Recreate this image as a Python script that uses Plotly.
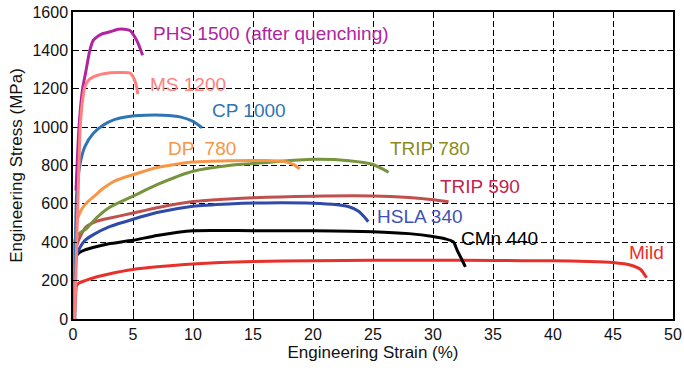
import plotly.graph_objects as go

# ---- data (engineering strain %, engineering stress MPa) ----
mild_x = [0.1, 0.2, 0.3, 0.5, 1, 2, 3, 5, 7, 10, 15, 20, 25, 30, 35, 40, 43, 45, 46.5, 47.3, 47.8]
mild_y = [0, 100, 175, 188, 200, 220, 235, 258, 272, 287, 300, 304, 306, 306, 305, 303, 300, 294, 280, 258, 215]

cmn_x = [0.1, 0.2, 0.5, 1, 2, 3, 5, 7, 10, 15, 20, 25, 28, 30, 31, 31.7, 32.0, 32.4, 32.7]
cmn_y = [0, 320, 345, 360, 378, 392, 410, 435, 460, 460, 460, 455, 445, 430, 418, 402, 360, 310, 272]

hsla_x = [0.1, 0.3, 0.6, 1, 1.7, 3, 5, 7, 10, 13, 16, 20, 22, 23, 23.8, 24.3, 24.6]
hsla_y = [0, 330, 375, 410, 440, 480, 520, 555, 588, 600, 605, 603, 595, 585, 562, 530, 507]

trip590_x = [0.1, 0.3, 0.6, 1.1, 2, 3, 5, 7, 10, 15, 20, 25, 28, 30, 31.3]
trip590_y = [0, 380, 430, 480, 510, 525, 552, 580, 612, 632, 640, 641, 633, 622, 611]

trip780_x = [0.1, 0.2, 0.5, 1.1, 2, 3, 5, 7, 10, 13, 16, 20, 23, 25, 26.3]
trip780_y = [0, 420, 445, 470, 530, 580, 640, 700, 770, 800, 815, 832, 825, 805, 765]

dp780_x = [0.1, 0.3, 0.7, 1.2, 1.7, 2.5, 3.5, 5, 7, 10, 13, 16, 17.5, 18.4, 18.9]
dp780_y = [0, 500, 570, 610, 636, 680, 720, 752, 790, 818, 825, 826, 822, 805, 782]

cp1000_x = [0.15, 0.3, 0.6, 1.0, 1.7, 2.5, 3.5, 4.5, 6, 7.5, 9, 10, 10.75]
cp1000_y = [0, 650, 812, 900, 968, 1010, 1040, 1054, 1062, 1062, 1052, 1030, 997]

phs_x = [0.25, 0.5, 0.8, 1.1, 1.4, 1.7, 2.1, 2.5, 3.1, 3.75, 4.3, 4.75, 5.1, 5.4, 5.8]
phs_y = [670, 1000, 1200, 1300, 1400, 1453, 1475, 1488, 1497, 1510, 1510, 1503, 1475, 1440, 1375]

ms_x = [0.15, 0.3, 0.45, 0.6, 0.8, 1.0, 1.3, 1.7, 2.3, 3.1, 4, 4.75, 5.1, 5.3, 5.4]
ms_y = [0, 380, 700, 1000, 1140, 1210, 1245, 1262, 1275, 1283, 1285, 1282, 1250, 1210, 1172]

label_text = ["PHS 1500 (after quenching)", "MS 1200", "CP 1000", "DP  780", "TRIP 780",
              "TRIP 590", "HSLA 340", "CMn 440", "Mild"]
label_x = [6.5, 6.25, 11.4, 7.75, 26.25, 30.4, 25.2, 32.2, 46.2]
label_y = [1490, 1224, 1089, 890, 890, 693, 536, 422, 349]

x_ticks = [0, 5, 10, 15, 20, 25, 30, 35, 40, 45, 50]
y_ticks = [0, 200, 400, 600, 800, 1000, 1200, 1400, 1600]

series = [
    (mild_x, mild_y, "#e8302a"),
    (cmn_x, cmn_y, "#000000"),
    (hsla_x, hsla_y, "#2f4aa8"),
    (trip590_x, trip590_y, "#c0504d"),
    (trip780_x, trip780_y, "#77933c"),
    (dp780_x, dp780_y, "#f79646"),
    (cp1000_x, cp1000_y, "#2e75b6"),
    (phs_x, phs_y, "#b0259f"),
    (ms_x, ms_y, "#ff7f7f"),
]
label_colors = ["#b0259f", "#ff7f7f", "#2e75b6", "#f79646", "#8c8c1e",
                "#c4244a", "#3f51b5", "#000000", "#e8302a"]

FONT = "Liberation Sans, Arial"

fig = go.Figure()
for xs, ys, c in series:
    fig.add_trace(go.Scatter(x=xs, y=ys, mode="lines",
                             line=dict(color=c, width=3, shape="spline", smoothing=0.6),
                             showlegend=False, hoverinfo="skip"))

for t, x, y, c in zip(label_text, label_x, label_y, label_colors):
    fig.add_annotation(x=x, y=y, xref="x", yref="y", text=t, showarrow=False,
                       xanchor="left", yanchor="middle",
                       font=dict(family=FONT, size=19, color=c))

axis_common = dict(showline=True, linecolor="black", linewidth=1.5, mirror=True,
                   showgrid=True, gridcolor="black", gridwidth=1.4, griddash="6px,3px",
                   zeroline=False, ticks="inside", ticklen=4, tickcolor="black",
                   automargin=False, ticklabeloverflow="allow",
                   tickfont=dict(family=FONT, size=16, color="#111"))

fig.update_xaxes(range=[0, 50], tickvals=x_ticks,
                 title=dict(text="Engineering Strain (%)", standoff=2,
                            font=dict(family=FONT, size=17, color="#111")),
                 **axis_common)
fig.update_yaxes(range=[0, 1600], tickvals=y_ticks,
                 title=dict(text="Engineering Stress (MPa)", standoff=6,
                            font=dict(family=FONT, size=17, color="#111")),
                 **axis_common)

fig.update_layout(width=684, height=368, margin=dict(l=73, r=11, t=12, b=49, autoexpand=False),
                  plot_bgcolor="white", paper_bgcolor="white")

fig.write_html("out.html", config={"displayModeBar": False},
               post_script="document.body.style.margin='0';document.body.style.overflow='hidden';")
